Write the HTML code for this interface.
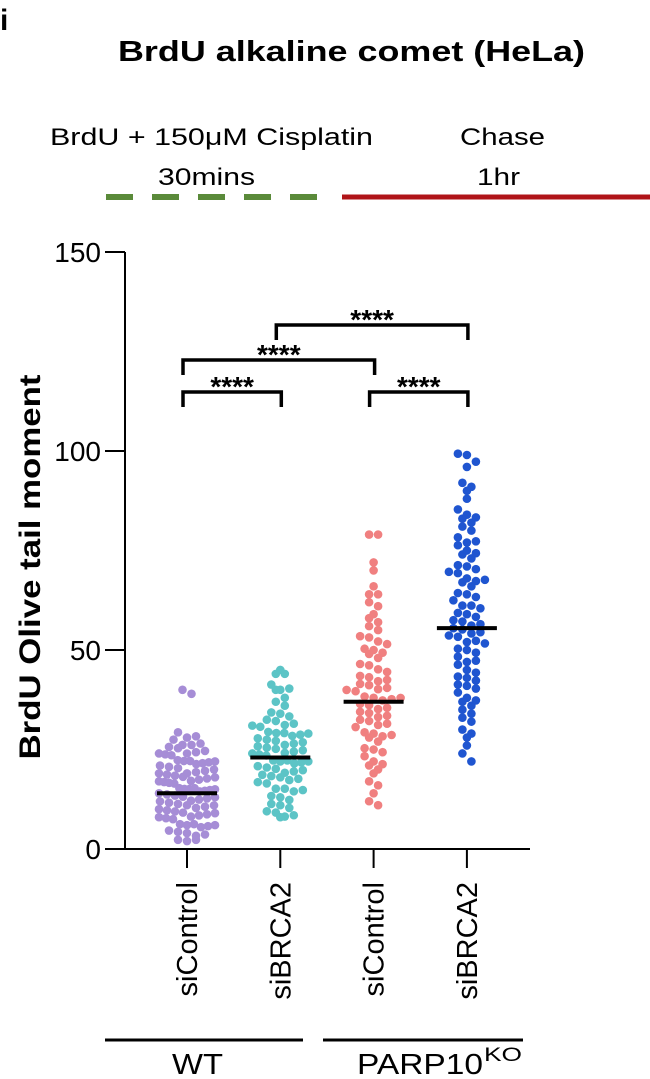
<!DOCTYPE html>
<html><head><meta charset="utf-8">
<style>
html,body{margin:0;padding:0;background:#fff;}
svg{display:block;font-family:"Liberation Sans",Arial,sans-serif;}
</style></head>
<body>
<svg id="chart" width="650" height="1079" viewBox="0 0 650 1079">
  <text x="0" y="30" font-size="30" font-weight="bold">i</text>
  <text x="118" y="61" font-size="29" font-weight="bold" textLength="467" lengthAdjust="spacingAndGlyphs">BrdU alkaline comet  (HeLa)</text>
  <text x="50" y="145" font-size="24" textLength="323" lengthAdjust="spacingAndGlyphs">BrdU + 150μM Cisplatin</text>
  <text x="158" y="185" font-size="24" textLength="97" lengthAdjust="spacingAndGlyphs">30mins</text>
  <text x="460" y="145" font-size="24" textLength="85" lengthAdjust="spacingAndGlyphs">Chase</text>
  <text x="477" y="185" font-size="24" textLength="43" lengthAdjust="spacingAndGlyphs">1hr</text>
  <line x1="106" y1="197" x2="320" y2="197" stroke="#5a8a3a" stroke-width="6" stroke-dasharray="27,19"/>
  <line x1="342" y1="197" x2="650" y2="197" stroke="#b01418" stroke-width="5"/>
  <g id="axes"></g>
  <g id="dots"></g>
  <g id="sig"></g>
</svg>
<script>
const categories = ["siControl","siBRCA2","siControl","siBRCA2"];
const colors = ["#a68dd6","#5cc4c6","#f08080","#1f55d0"];
const yTicks = [0,50,100,150];
const medians = [14,23,37,55.5];
const g1 = [40,39,30,29,29,28,27,27,27,26,26,25,25,25,24,24,24,23,23,23,22,22,22,22,21,21,21,20,20,20,20,19,19,19,19,18,18,18,18,17,17,17,17,16,16,16,16,15,15,15,15,14,14,14,14,13,13,13,13,12,12,12,12,11,11,11,10,10,10,10,9,9,9,9,8,8,8,7,7,7,6,6,6,5,5,5,4,4,3,3,3];
const g2 = [45,44,44,42,41,41,40,38,37,36,35,35,34,33,33,32,32,31,31,30,30,30,29,29,29,28,28,28,27,27,27,26,26,26,25,25,25,24,24,24,23,23,23,22,22,22,21,21,21,20,20,20,19,19,19,18,18,17,17,16,16,15,15,14,14,13,12,12,11,10,10,9,9,8];
const g3 = [79,79,72,70,66,64,64,62,61,59,58,57,56,55,54,54,53,52,51,51,50,49,48,47,47,46,45,44,44,43,43,42,42,41,41,40,40,39,39,38,38,38,37,37,36,36,35,35,34,34,33,33,32,32,31,30,30,29,29,28,27,26,26,25,24,23,22,21,20,19,17,16,14,12,11];
const g4 = [100,100,98,96,92,91,90,88,86,85,84,83,82,81,80,79,78,78,77,76,75,74,73,72,72,71,70,70,69,68,68,67,66,65,65,64,63,62,62,61,60,60,59,58,58,57,57,56,56,55,55,54,54,53,53,52,51,51,50,49,48,48,47,46,45,44,44,43,42,42,41,40,39,38,37,36,35,34,33,32,30,29,28,26,24,22];
const groups = [g1,g2,g3,g4];
const sigPairs = [[0,1],[0,2],[1,3],[2,3]];
const sigLevels = [392,360,325,392];
const sigLabels = ["****","****","****","****"];
const groupLabels = ["WT","PARP10"];

const NS="http://www.w3.org/2000/svg";
const x0=125, x1=530, y0=849, yTop=252;
function yScale(v){return y0-(v/150)*(y0-yTop);}
function xScale(i){return 187+i*93.3;}
function mk(tag,attrs,parent){const e=document.createElementNS(NS,tag);for(const k in attrs)e.setAttribute(k,attrs[k]);parent.appendChild(e);return e;}
const axes=document.getElementById('axes');
let e=mk('line',{x1:x0,y1:yTop,x2:x0,y2:y0,stroke:'#000','stroke-width':2},axes);


e=mk('line',{x1:x0-20,y1:y0,x2:x1,y2:y0,stroke:'#000','stroke-width':2},axes);


yTicks.forEach(t=>{
  const y=yScale(t);
  let l=mk('line',{x1:x0-20,y1:y,x2:x0,y2:y,stroke:'#000','stroke-width':2},axes);
  
  
  let tx=mk('text',{x:x0-24,y:y+10,'font-size':28,'text-anchor':'end'},axes);
  tx.textContent=t;
  
  
});
let yt=mk('text',{x:0,y:0,'font-size':30,'font-weight':'bold','text-anchor':'middle',textLength:385,lengthAdjust:'spacingAndGlyphs',transform:'translate(40,567) rotate(-90)'},axes);
yt.textContent='BrdU Olive tail moment';


categories.forEach((c,i)=>{
  const x=xScale(i);
  let l=mk('line',{x1:x,y1:y0,x2:x,y2:y0+19,stroke:'#000','stroke-width':2},axes);
  
  
  let t=mk('text',{x:0,y:0,'font-size':29,'text-anchor':'end',transform:`translate(${x+10},882) rotate(-90)`},axes);
  t.textContent=c;
  
  
});
[[105,303],[323,523]].forEach((r,i)=>{
  let l=mk('line',{x1:r[0],y1:1040,x2:r[1],y2:1040,stroke:'#000','stroke-width':3},axes);
  
  
});
let wt=mk('text',{x:172,y:1074,'font-size':29,textLength:51,lengthAdjust:'spacingAndGlyphs'},axes);
wt.textContent=groupLabels[0];


let pk=mk('text',{x:357,y:1074,'font-size':29,textLength:126,lengthAdjust:'spacingAndGlyphs'},axes);
pk.textContent=groupLabels[1];


let sup=mk('text',{x:484,y:1061,'font-size':19,textLength:38,lengthAdjust:'spacingAndGlyphs'},axes);
sup.textContent='KO';



const dots=document.getElementById('dots');
groups.forEach((vals,gi)=>{
  const cx=xScale(gi);
  const bins={};
  vals.forEach(v=>{const b=Math.round(v/2.3);(bins[b]=bins[b]||[]).push(v);});
  Object.keys(bins).forEach(b=>{
    const arr=bins[b];const n=arr.length;
    const sp=n>1?Math.min(9,56/(n-1)):0;
    arr.forEach((v,k)=>{
      const off=(k-(n-1)/2)*sp;
      const dy=(n>2)?(1-Math.abs(off)/28)*4:0;
      const c=mk('circle',{cx:cx+off,cy:yScale(v)+dy,r:4.3,fill:colors[gi]},dots);
      
      
    });
  });
  const m=mk('line',{x1:cx-30,y1:yScale(medians[gi]),x2:cx+30,y2:yScale(medians[gi]),stroke:'#000','stroke-width':4},dots);
  
  
});

const sig=document.getElementById('sig');
sigPairs.forEach((p,i)=>{
  const xa=xScale(p[0])-4, xb=xScale(p[1])+1, y=sigLevels[i];
  const path=mk('path',{d:`M${xa},${y+15}V${y}H${xb}V${y+15}`,fill:'none',stroke:'#000','stroke-width':3.5},sig);
  
  
  const t=mk('text',{x:(xa+xb)/2,y:y+4,'font-size':28,'font-weight':'bold','text-anchor':'middle'},sig);
  t.textContent=sigLabels[i];
  
  
});
</script>
</body></html>
